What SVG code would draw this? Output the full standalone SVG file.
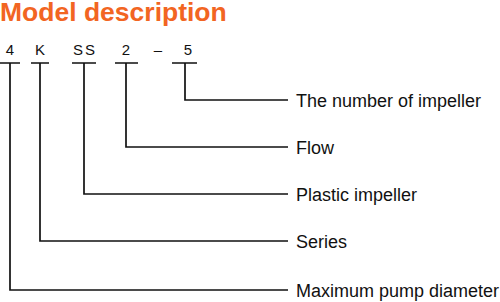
<svg xmlns="http://www.w3.org/2000/svg" width="500" height="302" viewBox="0 0 500 302">
<style>
.t{font-family:"Liberation Sans",Arial,sans-serif;font-size:18px;fill:#111}
.c{font-family:"Liberation Sans",Arial,sans-serif;font-size:15px;fill:#111;text-anchor:middle}
.h{font-family:"Liberation Sans",Arial,sans-serif;font-size:26.5px;font-weight:bold;fill:#F26522}
.l{fill:none;stroke:#111;stroke-width:1.7}
</style>
<rect width="500" height="302" fill="#fff"/>
<text class="h" x="0" y="21">Model description</text>
<g id="code">
<text class="c" x="10" y="55">4</text>
<text class="c" x="40" y="55">K</text>
<text class="c" x="85" y="55" letter-spacing="2">SS</text>
<text class="c" x="126" y="55">2</text>
<text class="c" x="158" y="55">–</text>
<text class="c" x="188" y="55">5</text>
</g>
<g id="connectors">
<path class="l" d="M0,63H20M10,63V290H288"/>
<path class="l" d="M31,63H49M40,63V241H288"/>
<path class="l" d="M72,63H96M84,63V194H288"/>
<path class="l" d="M115,63H138M126,63V147H288"/>
<path class="l" d="M172,63H197M185,63V100H288"/>
</g>
<g id="n-impeller-number"><text class="t" x="296" y="107">The number of impeller</text></g>
<g id="n-flow"><text class="t" x="296" y="154">Flow</text></g>
<g id="n-plastic"><text class="t" x="296" y="201">Plastic impeller</text></g>
<g id="n-series"><text class="t" x="296" y="248">Series</text></g>
<g id="n-diameter"><text class="t" x="296" y="297">Maximum pump diameter</text></g>
</svg>
